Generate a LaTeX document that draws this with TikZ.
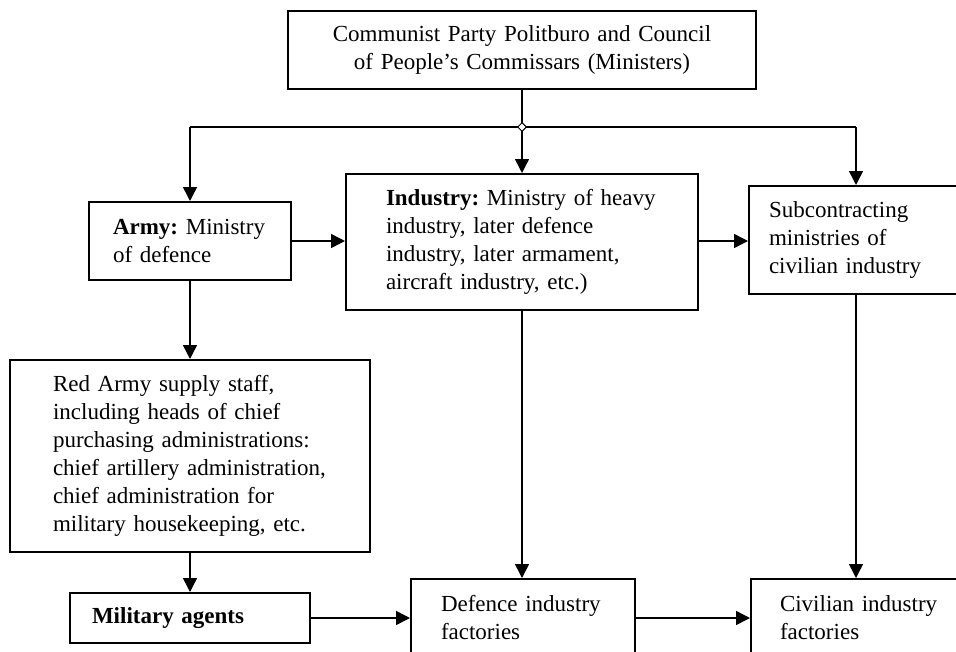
\documentclass[tikz,border=0pt]{standalone}
\usepackage{fontspec}
\setmainfont{Liberation Serif}
\usetikzlibrary{arrows.meta,shapes.geometric}
\begin{document}
\begin{tikzpicture}[x=1pt,y=-1pt,
  box/.style={draw, line width=2pt, inner ysep=0pt, align=left,
    font=\fontsize{23}{28}\selectfont\frenchspacing, anchor=center},
  conn/.style={line width=1.5pt, -{Triangle[length=14pt,width=14pt]}},
  plain/.style={line width=1.5pt}]
\clip (0,0) rectangle (956,651);
\useasboundingbox (0,0) rectangle (956,651);
\node[box, align=center, minimum width=468pt, minimum height=78pt, inner xsep=10pt, text width=448pt] (top) at (522,50)
  {Communist Party Politburo and Council\\of People’s Commissars (Ministers)};
\node[box, minimum width=202pt, minimum height=78pt, inner xsep=24pt, text width=154pt] (army) at (190,241)
  {\mbox{\textbf{Army:} Ministry}\\\mbox{of defence}};
\node[box, minimum width=352pt, minimum height=136pt, inner xsep=40pt, text width=272pt] (ind) at (522,242)
  {\mbox{\textbf{Industry:} Ministry of heavy}\\\mbox{industry, later defence}\\\mbox{industry, later armament,}\\\mbox{aircraft industry, etc.)}};
\node[box, minimum width=214pt, minimum height=108pt, inner xsep=20pt, text width=174pt] (sub) at (856,240)
  {\mbox{Subcontracting}\\\mbox{ministries of}\\\mbox{civilian industry}};
\node[box, minimum width=360pt, minimum height=192pt, inner xsep=43pt, text width=274pt] (red) at (190,456)
  {\mbox{Red Army supply staff,}\\\mbox{including heads of chief}\\\mbox{purchasing administrations:}\\\mbox{chief artillery administration,}\\\mbox{chief administration for}\\\mbox{military housekeeping, etc.}};
\node[box, minimum width=240pt, minimum height=50pt, inner xsep=22pt, text width=196pt] (mil) at (190,618)
  {\mbox{\textbf{Military agents}}};
\node[box, minimum width=224pt, minimum height=78pt, inner xsep=30pt, text width=164pt] (def) at (523,618)
  {\mbox{Defence industry}\\\mbox{factories}};
\node[box, minimum width=210pt, minimum height=78pt, inner xsep=29pt, text width=152pt] (civ) at (856,618)
  {\mbox{Civilian industry}\\\mbox{factories}};
\coordinate (j) at (522,127);
\draw[plain] (top.south) -- (j);
\draw[plain] (army.north |- j) -- (sub.north |- j);
\draw[conn] (army.north |- j) -- (army.north);
\draw[conn] (j) -- (ind.north -| j);
\draw[conn] (sub.north |- j) -- (sub.north);
\node[draw, diamond, fill=white, line width=1pt, inner sep=0pt, minimum size=9pt] (jd) at (j) {};
\draw[conn] (army.east) -- (army.east -| ind.west);
\draw[conn] (army.east -| ind.east) -- (army.east -| sub.west);
\draw[conn] (army.south) -- (army.south |- red.north);
\draw[conn] (red.south -| army.south) -- (mil.north);
\draw[conn] (mil.east) -- (mil.east -| def.west);
\draw[conn] (ind.south -| j) -- (def.north -| j);
\draw[conn] (sub.south) -- (civ.north);
\draw[conn] (def.east) -- (def.east -| civ.west);
\end{tikzpicture}
\end{document}
